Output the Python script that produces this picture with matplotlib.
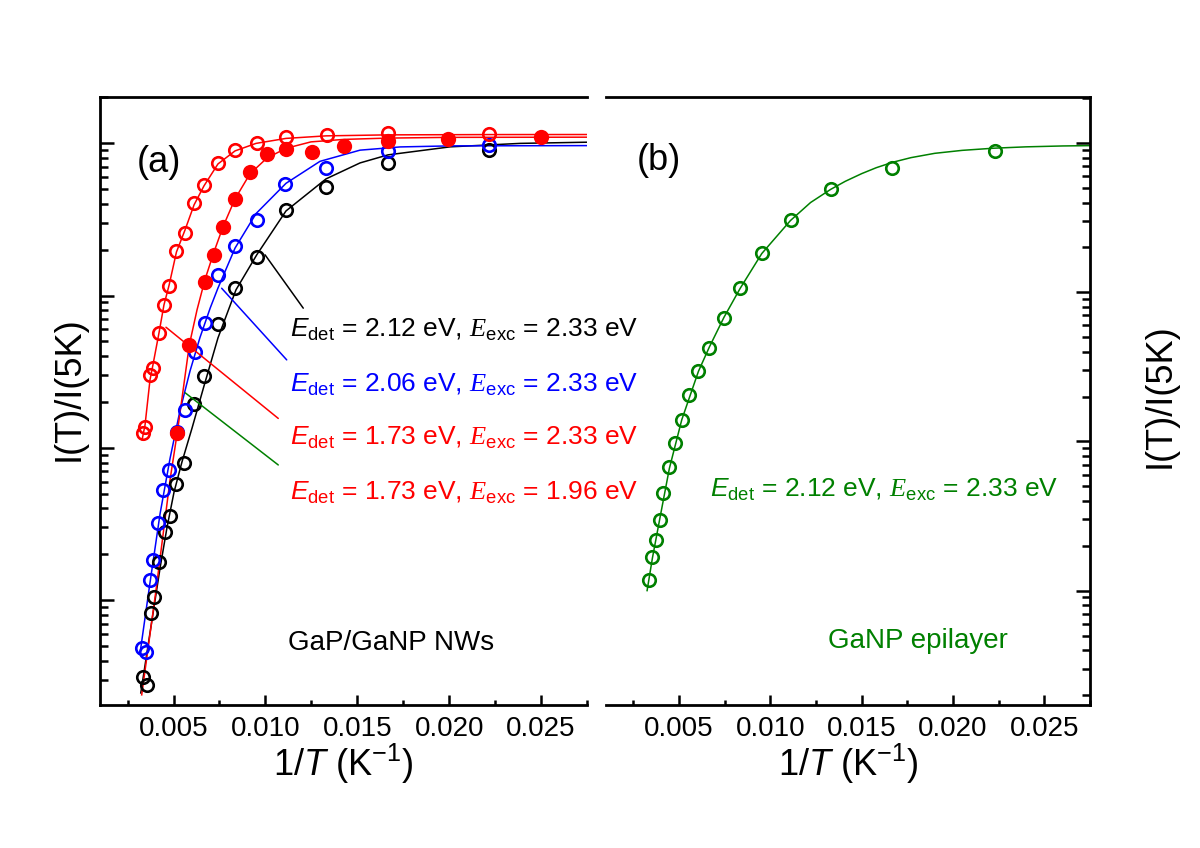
import matplotlib
matplotlib.use("Agg")
import matplotlib.pyplot as plt
from matplotlib.ticker import MultipleLocator, FormatStrFormatter, LogLocator, NullFormatter

plt.rcParams["font.family"] = ["Liberation Sans", "DejaVu Sans"]
plt.rcParams["mathtext.fontset"] = "custom"
plt.rcParams["mathtext.rm"] = "Liberation Sans"
plt.rcParams["mathtext.it"] = "Liberation Sans:italic"
plt.rcParams["mathtext.sf"] = "Liberation Serif:italic"

RED = "#ff0000"
BLUE = "#0000ff"
GREEN = "#008000"
BLACK = "#000000"

# ---- panel (a): GaP/GaNP nanowires, x = 1/T (1/K), y = I(T)/I(5K)
x_black = [0.00334, 0.00356, 0.00378, 0.00394, 0.00421, 0.00454, 0.00481, 0.00514, 0.00556,
           0.00614, 0.00667, 0.00744, 0.00835, 0.00953, 0.01112, 0.01330, 0.01666, 0.02217]
y_black = [3.13e-4, 2.77e-4, 8.24e-4, 1.05e-3, 1.78e-3, 2.80e-3, 3.55e-3, 5.83e-3, 7.90e-3,
           0.0194, 0.0295, 0.0646, 0.112, 0.180, 0.365, 0.519, 0.739, 0.904]

x_blue = [0.00331, 0.00353, 0.00372, 0.00390, 0.00416, 0.00445, 0.00476, 0.00519, 0.00563,
          0.00617, 0.00671, 0.00744, 0.00835, 0.00953, 0.01109, 0.01330, 0.01666, 0.02217]
y_blue = [4.86e-4, 4.57e-4, 1.36e-3, 1.84e-3, 3.22e-3, 5.29e-3, 7.16e-3, 0.0127, 0.0177,
          0.0426, 0.066, 0.136, 0.212, 0.311, 0.537, 0.685, 0.890, 0.975]

x_red_open = [0.00332, 0.00345, 0.00372, 0.00387, 0.00423, 0.00448, 0.00476, 0.00516, 0.00563,
              0.00612, 0.00666, 0.00742, 0.00835, 0.00952, 0.01112, 0.01333, 0.01667, 0.02217]
y_red_open = [0.0125, 0.0138, 0.0301, 0.0333, 0.0565, 0.0868, 0.115, 0.195, 0.258,
              0.406, 0.528, 0.743, 0.904, 1.01, 1.10, 1.13, 1.16, 1.15]

x_red_full = [0.00521, 0.00586, 0.00671, 0.00720, 0.00771, 0.00835, 0.00916, 0.01009, 0.01112,
              0.01252, 0.01425, 0.01667, 0.01995, 0.02498]
y_red_full = [0.0126, 0.0475, 0.123, 0.185, 0.282, 0.433, 0.646, 0.851, 0.914,
              0.871, 0.960, 1.04, 1.06, 1.09]

# fitted curves
fit_black_x = [0.00322, 0.00372, 0.00427, 0.00465, 0.00503, 0.00546, 0.00601, 0.00666, 0.00742,
               0.00840, 0.00953, 0.01112, 0.01330, 0.01515, 0.01667, 0.02005, 0.02386, 0.0275]
fit_black_y = [2.46e-4, 6.09e-4, 1.63e-3, 3.02e-3, 5.13e-3, 8.08e-3, 0.0135, 0.0255, 0.0527,
               0.109, 0.185, 0.359, 0.583, 0.742, 0.838, 0.946, 0.997, 1.015]

fit_blue_x = [0.00318, 0.00372, 0.00427, 0.00481, 0.00535, 0.00590, 0.00644, 0.00700, 0.00742,
              0.00835, 0.00949, 0.01112, 0.01297, 0.01515, 0.01733, 0.02005, 0.0275]
fit_blue_y = [4.5e-4, 1.3e-3, 3.7e-3, 8.5e-3, 0.0175, 0.032, 0.053, 0.083, 0.112,
              0.205, 0.345, 0.545, 0.76, 0.90, 0.945, 0.96, 0.964]

fit_red_open_x = [0.00329, 0.00345, 0.00372, 0.00388, 0.00421, 0.00448, 0.00476, 0.00516, 0.00563,
                  0.00612, 0.00666, 0.00742, 0.00835, 0.00949, 0.01112, 0.01330, 0.01667, 0.02217,
                  0.0275]
fit_red_open_y = [0.0113, 0.0141, 0.0279, 0.035, 0.0568, 0.0867, 0.117, 0.193, 0.270,
                  0.394, 0.525, 0.731, 0.89, 0.997, 1.075, 1.117, 1.134, 1.139, 1.14]

fit_red_full_x = [0.00327, 0.00405, 0.00481, 0.00521, 0.00586, 0.00628, 0.00671, 0.00720, 0.00771,
                  0.00835, 0.00916, 0.01009, 0.01112, 0.01248, 0.01428, 0.01667, 0.02005, 0.0275]
fit_red_full_y = [2.39e-4, 1.17e-3, 6.15e-3, 0.0127, 0.0474, 0.0805, 0.127, 0.193, 0.286,
                  0.431, 0.629, 0.80, 0.925, 1.02, 1.059, 1.08, 1.092, 1.095]

# ---- panel (b): GaNP epilayer
x_green = [0.00335, 0.00354, 0.00372, 0.00396, 0.00414, 0.00447, 0.00478, 0.00515, 0.00556,
           0.00605, 0.00666, 0.00746, 0.00834, 0.00953, 0.01111, 0.01332, 0.01668, 0.02228]
y_green = [1.18e-3, 1.69e-3, 2.19e-3, 2.98e-3, 4.50e-3, 6.78e-3, 9.82e-3, 0.0139, 0.0205,
           0.0298, 0.0426, 0.067, 0.107, 0.183, 0.305, 0.490, 0.684, 0.88]

fit_green_x = [0.00325, 0.00354, 0.00396, 0.00447, 0.00515, 0.00606, 0.00666, 0.00746, 0.00834,
               0.00953, 0.0111, 0.0122, 0.0133, 0.0141, 0.0150, 0.0158, 0.0167, 0.0177,
               0.0190, 0.0205, 0.0222, 0.0240, 0.0260, 0.0275]
fit_green_y = [1.0e-3, 1.65e-3, 3.1e-3, 6.6e-3, 0.014, 0.0295, 0.043, 0.068, 0.106,
               0.182, 0.303, 0.40, 0.49, 0.555, 0.625, 0.685, 0.745, 0.80,
               0.855, 0.895, 0.925, 0.945, 0.958, 0.963]

labels_a = [
    (r"$\mathit{E}_{\mathrm{det}}$ = 2.12 eV, $\mathsf{E}_{\mathrm{exc}}$ = 2.33 eV", BLACK),
    (r"$\mathit{E}_{\mathrm{det}}$ = 2.06 eV, $\mathsf{E}_{\mathrm{exc}}$ = 2.33 eV", BLUE),
    (r"$\mathit{E}_{\mathrm{det}}$ = 1.73 eV, $\mathsf{E}_{\mathrm{exc}}$ = 2.33 eV", RED),
    (r"$\mathit{E}_{\mathrm{det}}$ = 1.73 eV, $\mathsf{E}_{\mathrm{exc}}$ = 1.96 eV", RED),
]
label_b = r"$\mathit{E}_{\mathrm{det}}$ = 2.12 eV, $\mathsf{E}_{\mathrm{exc}}$ = 2.33 eV"

# leader lines: (point on curve, end near label), data coords
leaders_a = [
    ((0.00998, 0.185), (0.01206, 0.0826), BLACK),
    ((0.00762, 0.1116), (0.01116, 0.0378), BLUE),
    ((0.00459, 0.0619), (0.01070, 0.0156), RED),
    ((0.00563, 0.0230), (0.01070, 0.00772), GREEN),
]

W, H = 1200, 848
fig = plt.figure(figsize=(W / 100, H / 100), dpi=100)
ax_a = fig.add_axes([100 / W, 1 - 705 / H, 487 / W, 608 / H])
ax_b = fig.add_axes([606 / W, 1 - 705 / H, 484 / W, 608 / H])
ax_b.patch.set_visible(False)

open_kw = dict(linestyle="none", marker="o", markersize=9, markerfacecolor="none",
               markeredgewidth=1.9)


def style_axis(ax, side):
    ax.set_yscale("log")
    ax.set_xlim(0.001, 0.0275)
    ax.xaxis.set_major_locator(MultipleLocator(0.005))
    ax.xaxis.set_minor_locator(MultipleLocator(0.0025))
    ax.xaxis.set_major_formatter(FormatStrFormatter("%.3f"))
    ax.yaxis.set_major_locator(LogLocator(base=10))
    ax.yaxis.set_minor_locator(LogLocator(base=10, subs=range(2, 10)))
    ax.yaxis.set_major_formatter(NullFormatter())
    ax.yaxis.set_minor_formatter(NullFormatter())
    for s in ax.spines.values():
        s.set_linewidth(2.0)
    ax.tick_params(axis="x", which="major", direction="in", length=7, width=1.8,
                   labelsize=20, pad=8, top=False)
    ax.tick_params(axis="x", which="minor", direction="in", length=3.6, width=1.8, top=False)
    if side == "left":
        ax.spines["right"].set_visible(False)
        ax.tick_params(axis="y", which="major", direction="in", length=10, width=1.8,
                       left=True, right=False)
        ax.tick_params(axis="y", which="minor", direction="in", length=6, width=1.8,
                       left=True, right=False)
    else:
        ax.spines["left"].set_visible(False)
        ax.tick_params(axis="y", which="major", direction="in", length=10, width=1.8,
                       left=False, right=True)
        ax.tick_params(axis="y", which="minor", direction="in", length=6, width=1.8,
                       left=False, right=True)
    ax.set_xlabel(r"1/$\mathit{T}$ (K$^{-1}$)", fontsize=26, labelpad=0)


# panel (a)
ax = ax_a
ax.plot(fit_black_x, fit_black_y, color=BLACK, lw=1.1)
ax.plot(fit_blue_x, fit_blue_y, color=BLUE, lw=1.1)
ax.plot(fit_red_open_x, fit_red_open_y, color=RED, lw=1.1)
ax.plot(fit_red_full_x, fit_red_full_y, color=RED, lw=1.1)
ax.plot(x_black, y_black, color=BLACK, markeredgecolor=BLACK, **open_kw)
ax.plot(x_blue, y_blue, color=BLUE, markeredgecolor=BLUE, **open_kw)
ax.plot(x_red_open, y_red_open, color=RED, markeredgecolor=RED, **open_kw)
ax.plot(x_red_full, y_red_full, linestyle="none", marker="o", markersize=11,
        color=RED, markeredgewidth=0)
for p0, p1, c in leaders_a:
    ax.annotate("", xy=p0, xytext=p1, arrowprops=dict(arrowstyle="-", color=c, lw=1.1,
                                                       shrinkA=0, shrinkB=0))
style_axis(ax, "left")
ax.set_ylim(2.05e-4, 2.01)

label_y = [336.7, 391.7, 445.0, 500.0]
for (txt, c), py in zip(labels_a, label_y):
    ax.text((290 - 100) / 487, (705 - py) / 608, txt, color=c, fontsize=19,
            transform=ax.transAxes, ha="left", va="baseline", clip_on=False)
ax.text((137 - 100) / 487, (705 - 162) / 608, "(a)", fontsize=26, transform=ax.transAxes,
        ha="left", va="center")
ax.text((288 - 100) / 487, (705 - 650) / 608, "GaP/GaNP NWs", fontsize=20,
        transform=ax.transAxes, ha="left", va="baseline")

# panel (b)
ax = ax_b
ax.plot(fit_green_x, fit_green_y, color=GREEN, lw=1.1)
ax.plot(x_green, y_green, color=GREEN, markeredgecolor=GREEN, **open_kw)
style_axis(ax, "right")
ax.set_ylim(1.71e-4, 2.04)
ax.text((710 - 606) / 484, (705 - 496.7) / 608, label_b, color=GREEN, fontsize=19,
        transform=ax.transAxes, ha="left", va="baseline")
ax.text((637 - 606) / 484, (705 - 160) / 608, "(b)", fontsize=26, transform=ax.transAxes,
        ha="left", va="center")
ax.text((828 - 606) / 484, (705 - 648) / 608, "GaNP epilayer", fontsize=20, color=GREEN,
        transform=ax.transAxes, ha="left", va="baseline")

fig.text(69 / W, 1 - 389 / H, "I(T)/I(5K)", rotation=90, fontsize=26, ha="center", va="center")
fig.text(1160 / W, 1 - 396 / H, "I(T)/I(5K)", rotation=90, fontsize=26, ha="center", va="center")

fig.savefig("out.png", dpi=100)
